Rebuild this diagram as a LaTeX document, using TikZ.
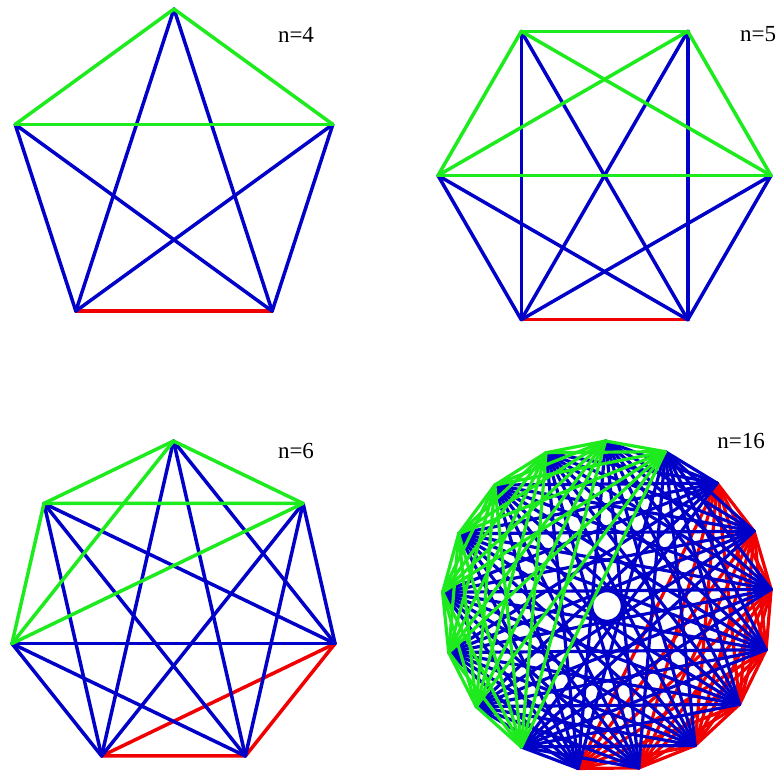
\documentclass[tikz,border=0pt]{standalone}
\usepackage{fontspec}
\setmainfont{Liberation Serif}
\definecolor{eg}{RGB}{30,235,30}
\definecolor{eb}{RGB}{0,0,200}
\definecolor{er}{RGB}{240,0,0}
\begin{document}
\begin{tikzpicture}[x=1pt,y=1pt,
  edge/.style={line width=3.5pt,line cap=round,line join=round},
  gedge/.style={edge,draw=eg},
  bedge/.style={edge,draw=eb},
  redge/.style={edge,draw=er},
  dedge/.style={line width=3.2pt,line cap=round},
  lab/.style={font=\fontsize{23}{25}\selectfont,inner sep=0pt}]
\useasboundingbox (0,0) rectangle (783,-774);
% ---------- n=4 : K5 ----------
\begin{scope}[shift={(174,-176)}]
  \foreach \k in {0,...,4} \coordinate (a\k) at (90+72*\k:167);
\end{scope}
\foreach \p/\q in {2/3} \draw[redge] (a\p) -- (a\q);
\foreach \p/\q in {0/2,0/3,1/2,1/3,4/2,4/3} \draw[bedge] (a\p) -- (a\q);
\foreach \p/\q in {0/1,0/4,1/4} \draw[gedge] (a\p) -- (a\q);
\node[lab] (l4) at (296,-35) {n=4};
% ---------- n=5 : K6 ----------
\begin{scope}[shift={(604.5,-175.5)}]
  \foreach \k in {0,...,5} \coordinate (b\k) at (60*\k:166.5);
\end{scope}
\foreach \p/\q in {4/5} \draw[redge] (b\p) -- (b\q);
\foreach \p in {0,...,3} \foreach \q in {4,5} \draw[bedge] (b\p) -- (b\q);
\foreach \p/\q in {0/1,0/2,0/3,1/2,1/3,2/3} \draw[gedge] (b\p) -- (b\q);
\node[lab] (l5) at (758,-34) {n=5};
% ---------- n=6 : K7 ----------
\begin{scope}[shift={(173.5,-606.7)}]
  \foreach \k in {0,...,6} \coordinate (c\k) at (90+360/7*\k:165.7);
\end{scope}
\foreach \p/\q in {3/4,3/5,4/5} \draw[redge] (c\p) -- (c\q);
\foreach \p in {0,1,2,6} \foreach \q in {3,4,5} \draw[bedge] (c\p) -- (c\q);
\foreach \p/\q in {0/1,0/2,0/6,1/2,1/6,2/6} \draw[gedge] (c\p) -- (c\q);
\node[lab] (l6) at (296,-451) {n=6};
% ---------- n=16 : K17 ----------
\begin{scope}[shift={(607,-606)}]
  \foreach \k in {0,...,16} \coordinate (d\k) at (90.5+360/17*\k:165);
\end{scope}
\foreach \i in {8,...,14} {
  \pgfmathtruncatemacro\s{\i+1}
  \foreach \j in {\s,...,15} \draw[dedge,draw=er] (d\i) -- (d\j);
}
\foreach \i in {0,...,7,16} \foreach \j in {8,...,15} \draw[dedge,draw=eb] (d\i) -- (d\j);
\foreach \i in {0,...,7} \draw[dedge,draw=eg] (d\i) -- (d16);
\foreach \i in {0,...,6} {
  \pgfmathtruncatemacro\s{\i+1}
  \foreach \j in {\s,...,7} \draw[dedge,draw=eg] (d\i) -- (d\j);
}
\node[lab] (l16) at (741,-441) {n=16};
\end{tikzpicture}
\end{document}
